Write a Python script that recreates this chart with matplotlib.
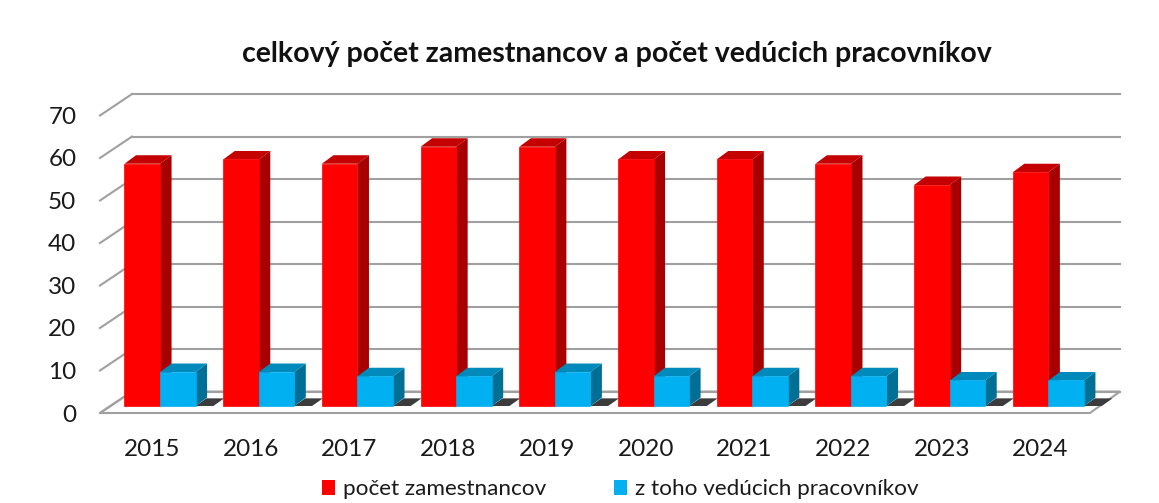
import numpy as np
import matplotlib.pyplot as plt
from matplotlib.patches import Polygon, Patch

plt.rcParams['font.family'] = ['Lato', 'DejaVu Sans']

years = ["2015", "2016", "2017", "2018", "2019", "2020", "2021", "2022", "2023", "2024"]
employees = [57, 58, 57, 61, 61, 58, 58, 57, 52, 55]
managers = [8, 8, 7, 7, 8, 7, 7, 7, 6, 6]
y_ticks = [0, 10, 20, 30, 40, 50, 60, 70]

# look of the fake 3d box
bar_w = 0.36
depth_dx, depth_dy = 0.117, 2.0          # bar depth
front_dx, front_dy = -0.608, -1.647      # floor front edge vs bar plane
back_dx, back_dy = -0.284, 3.4           # back wall vs bar plane
x_right_back, x_right_front = 9.726, 9.422
grid_col = "#a0a0a0"

red = ("#ff0000", "#a80000", "#c40000")
blue = ("#00b0f0", "#006f96", "#0089bb")

fig = plt.figure(figsize=(11.59, 5.03), dpi=100)
ax = fig.add_axes([100 / 1159, (503 - 413) / 503, 1020 / 1159, 323 / 503])
ax.set_xlim(-0.608, 9.726)
ax.set_ylim(-1.647, 74.35)
for s in ax.spines.values():
    s.set_visible(False)

# floor
floor = Polygon([(front_dx, front_dy), (x_right_front, front_dy),
                 (x_right_back, back_dy), (back_dx, back_dy)],
                closed=True, facecolor="white", edgecolor=grid_col, lw=1.5,
                clip_on=False, zorder=1)
ax.add_patch(floor)

# back wall gridlines + left side diagonals
for v in y_ticks:
    ax.plot([back_dx, x_right_back], [v + back_dy, v + back_dy], color=grid_col,
            lw=1.5, clip_on=False, zorder=1.5)
    ax.plot([front_dx, back_dx], [v + front_dy, v + back_dy], color=grid_col,
            lw=1.5, clip_on=False, zorder=1.5)

x = np.arange(len(years))


def draw_3d(left, vals, cols, z):
    ax.bar(left, vals, bar_w, align="edge", color=cols[0], edgecolor=cols[0],
           lw=0.5, zorder=z + 0.2, clip_on=False)
    for l, v in zip(left, vals):
        r = l + bar_w
        side = [(r, 0), (r, v), (r + depth_dx, v + depth_dy), (r + depth_dx, depth_dy)]
        top = [(l, v), (r, v), (r + depth_dx, v + depth_dy), (l + depth_dx, v + depth_dy)]
        ax.add_patch(Polygon(side, closed=True, color=cols[1], lw=0, zorder=z, clip_on=False))
        ax.add_patch(Polygon(top, closed=True, color=cols[2], lw=0, zorder=z, clip_on=False))


# shadows on the floor behind blue bars
for i in x:
    b = i + bar_w
    sh = [(b, 0), (b + 0.18, 0), (b + 0.29, 1.8), (b + 0.11, 1.8)]
    ax.add_patch(Polygon(sh, closed=True, color="#3c3c3c", lw=0, zorder=2, clip_on=False))

draw_3d(x - bar_w, employees, red, 3)
draw_3d(x, managers, blue, 4)

ax.set_xticks(x - 0.08)
ax.set_xticklabels(years, fontsize=17.5, color="#1a1a1a")
ax.set_yticks([v + front_dy for v in y_ticks])
ax.set_yticklabels([str(v) for v in y_ticks], fontsize=17.5, color="#1a1a1a")
ax.tick_params(axis="x", length=0, pad=19)
ax.tick_params(axis="y", length=0, pad=17)

fig.text(0.532, 0.892, "celkový počet zamestnancov a počet vedúcich pracovníkov",
         ha="center", va="center", fontsize=20.5, fontweight="bold", color="#111111")

handles = [Patch(facecolor=red[0], label="počet zamestnancov"),
           Patch(facecolor=blue[0], label="z toho vedúcich pracovníkov")]
fig.legend(handles=handles, loc="center", bbox_to_anchor=(0.535, 0.027), ncol=2,
           frameon=False, fontsize=16.2, handlelength=0.6, handleheight=0.6,
           handletextpad=0.35, columnspacing=3.0, labelcolor="#1a1a1a")

fig.savefig("out.png", dpi=100, facecolor="white")
